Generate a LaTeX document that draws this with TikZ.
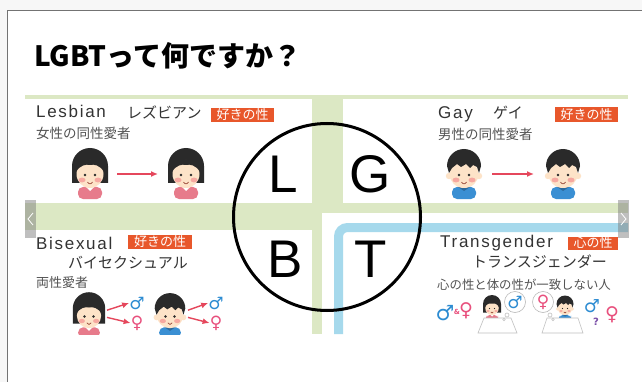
\documentclass[tikz,border=0pt]{standalone}
\usepackage{fontspec}
\setmainfont{Noto Sans CJK JP}
\newfontfamily\latinfont[LetterSpace=10]{Liberation Sans}
\newfontfamily\letterfont{Liberation Sans}
\newfontfamily\symbolfont{DejaVu Sans}
\usetikzlibrary{arrows.meta}

\definecolor{band}{HTML}{DCE8C4}
\definecolor{frameblue}{HTML}{A6D9EC}
\definecolor{tagorange}{HTML}{E8572B}
\definecolor{arrowred}{HTML}{E5475C}
\definecolor{maleblue}{HTML}{2D8CD2}
\definecolor{femalepink}{HTML}{E8507D}
\definecolor{qpurple}{HTML}{7B4FA8}
\definecolor{skin}{HTML}{FDE3C8}
\definecolor{cheek}{HTML}{F6A8A0}
\definecolor{hair}{HTML}{2A2A2A}
\definecolor{girlbody}{HTML}{E77B8B}
\definecolor{boybody}{HTML}{3A8FD3}
\definecolor{mouth}{HTML}{9A4A3A}
\definecolor{ink}{HTML}{333333}

\tikzset{
  en/.style={anchor=base west,inner sep=0,text=ink,font=\latinfont\fontsize{17}{17}\selectfont},
  kana/.style={anchor=base west,inner sep=0,text=ink,font=\fontsize{15}{15}\selectfont},
  note/.style={anchor=base west,inner sep=0,text=ink!85,font=\fontsize{13.5}{13.5}\selectfont},
  tag/.style={fill=tagorange,text=white,inner sep=0,font=\fontsize{13}{13}\selectfont},
  letter/.style={anchor=base,inner sep=0,text=black,font=\letterfont\fontsize{53}{53}\selectfont},
  male/.style={inner sep=0,text=maleblue,font=\symbolfont\bfseries\fontsize{17}{17}\selectfont},
  female/.style={inner sep=0,text=femalepink,font=\symbolfont\bfseries\fontsize{17}{17}\selectfont},
  bubble/.style={circle,draw=gray!55,fill=white,line width=0.6,minimum size=21,inner sep=0},
  arr/.style={arrowred,line width=1.4,-{Latex[length=7pt,width=6pt]}},
  desk/.style={fill=white,draw=gray!50,line width=0.6},
  % a girl with a bob and a pink top
  girl/.pic={
    \fill[girlbody,rounded corners=5] (-12,29) -- (-12,17) -- (12,17) -- (12,29) -- cycle;
    \fill[white] (-5,16) -- (0,21) -- (5,16) -- cycle;
    \fill[hair] (-18,13) -- (-18,-4) arc[start angle=180,end angle=360,radius=18] -- (18,13) -- cycle;
    \fill[skin] (0,4) ellipse (13.5 and 14);
    \fill[hair] (-14,2) .. controls (-10,-5) and (-4,-6) .. (0,-5) .. controls (4,-6) and (10,-5) .. (14,2) -- (15,-10) -- (-15,-10) -- cycle;
    \fill[hair] (-5,5) circle (1.4) (5,5) circle (1.4);
    \fill[cheek] (-8,10) ellipse (3.5 and 2.4) (8,10) ellipse (3.5 and 2.4);
    \draw[mouth,line width=0.7] (-2.5,12) .. controls (-1,14.5) and (1,14.5) .. (2.5,12);
    \coordinate (-l) at (-28,4);
    \coordinate (-r) at (27,4);
    \coordinate (-ne) at (20,-2);
    \coordinate (-se) at (20,6);
  },
  % a boy with short hair and a blue shirt
  boy/.pic={
    \fill[boybody,rounded corners=5] (-12,29) -- (-12,17) -- (12,17) -- (12,29) -- cycle;
    \fill[boybody!75!black] (-6,17) -- (0,21) -- (6,17) -- cycle;
    \fill[skin] (-15,6) circle (3.2) (15,6) circle (3.2);
    \fill[skin] (0,4) ellipse (14.5 and 14);
    \fill[hair] (-15,3) -- (-17,-4) arc[start angle=180,end angle=360,radius=17] -- (15,3) -- (13,-3) -- (9,-5) -- (6,-2) -- (2,-6) -- (-3,-3) -- (-7,-6) -- (-12,-2) -- cycle;
    \fill[hair] (-5,5) circle (1.4) (5,5) circle (1.4);
    \fill[cheek] (-8,10) ellipse (3.5 and 2.4) (8,10) ellipse (3.5 and 2.4);
    \draw[mouth,line width=0.7] (-2.5,12) .. controls (-1,14.5) and (1,14.5) .. (2.5,12);
    \coordinate (-l) at (-29,4);
    \coordinate (-r) at (28,4);
    \coordinate (-ne) at (20,-2);
    \coordinate (-se) at (20,6);
  }
}

\begin{document}
\begin{tikzpicture}[x=1pt,y=-1pt]
\useasboundingbox (0,0) rectangle (642,382);
% page
\fill[gray!6] (0,0) rectangle (642,382);
\fill[white] (7.5,10.5) rectangle (642,382);
\draw[gray!90!black,line width=1.2] (7.5,382) -- (7.5,10.5) -- (642,10.5);

\node[anchor=base west,inner sep=0,font=\bfseries\fontsize{28}{28}\selectfont] (title) at (34,67) {LGBTって何ですか？};

% panels on the green cross
\fill[band] (25,95) rectangle (628,334);
\fill[white] (25,99) rectangle (312,203);
\fill[white] (343,99) rectangle (628,203);
\fill[white] (25,230) rectangle (312,334);
\fill[white] (322,213) rectangle (628,334);
\draw[frameblue,line width=9,rounded corners=9] (338.5,334) -- (338.5,227.5) -- (628,227.5);

\begin{scope}
\clip (25,95) rectangle (628,334);

% Lesbian
\node[en] (les) at (36,118) {Lesbian};
\node[kana] (lesk) at (127,119) {レズビアン};
\node[tag,minimum width=63,minimum height=14] (lestag) at (242.5,115) {好きの性};
\node[note] (lesn) at (36,139) {女性の同性愛者};
\pic (lg1) at (90,170) {girl};
\pic (lg2) at (186,170) {girl};
\draw[arr] (lg1-r) -- (lg2-l);

% Gay
\node[en] (gay) at (438,119) {Gay};
\node[kana] (gayk) at (493,119) {ゲイ};
\node[tag,minimum width=63,minimum height=15] (gaytag) at (586.5,114.5) {好きの性};
\node[note] (gayn) at (438,140) {男性の同性愛者};
\pic (gb1) at (464,170) {boy};
\pic (gb2) at (563,170) {boy};
\draw[arr] (gb1-r) -- (gb2-l);

% Bisexual
\node[en] (bi) at (36,249) {Bisexual};
\node[tag,minimum width=64,minimum height=14] (bitag) at (160,242) {好きの性};
\node[kana] (bik) at (68,268) {バイセクシュアル};
\node[note,font=\fontsize{13}{13}\selectfont] (bin) at (36,287) {両性愛者};
\pic[scale=0.9] (bg) at (89,312) {girl};
\pic[scale=0.9] (bb) at (170,312) {boy};
\node[male] (bgm) at (137,303) {♂};
\node[female] (bgf) at (137,323) {♀};
\node[male] (bbm) at (216,303) {♂};
\node[female] (bbf) at (216,323) {♀};
\draw[arr] (bg-ne) -- (bgm.west);
\draw[arr] (bg-se) -- (bgf.west);
\draw[arr] (bb-ne) -- (bbm.west);
\draw[arr] (bb-se) -- (bbf.west);

% Transgender
\node[en] (tr) at (440,247) {Transgender};
\node[tag,minimum width=50,minimum height=13] (trtag) at (593,243) {心の性};
\node[kana] (trk) at (472,267) {トランスジェンダー};
\node[note,font=\fontsize{12.4}{12.4}\selectfont] (trn) at (437,289) {心の性と体の性が一致しない人};
\node[male,font=\symbolfont\bfseries\fontsize{21}{21}\selectfont] (tm1) at (445,313) {♂};
\node[inner sep=0,text=femalepink,font=\symbolfont\bfseries\fontsize{7}{7}\selectfont] (tamp) at (457,312) {\&};
\node[female,font=\symbolfont\bfseries\fontsize{19}{19}\selectfont] (tf1) at (466,311) {♀};
\pic[scale=0.5] (tg) at (492,306) {girl};
\pic[scale=0.5] (tb) at (565,306) {boy};
\draw[desk] (484,318) -- (511,318) -- (517,333) -- (478,333) -- cycle;
\draw[desk] (547,318) -- (578,318) -- (583,333) -- (542,333) -- cycle;
\node[bubble,male] (tbm) at (515,302) {♂};
\draw[desk] (507,315) circle (2) (504,319.5) circle (1.2);
\node[bubble,female] (tbf) at (543,302) {♀};
\draw[desk] (550,315) circle (2) (553,319.5) circle (1.2);
\node[male,font=\symbolfont\bfseries\fontsize{18}{18}\selectfont] (tm2) at (592,306) {♂};
\node[inner sep=0,text=qpurple,font=\symbolfont\bfseries\fontsize{10}{10}\selectfont] (tq) at (596,322) {?};
\node[female,font=\symbolfont\bfseries\fontsize{19}{19}\selectfont] (tf2) at (612,315) {♀};
\end{scope}

% the big ring with the four letters
\node[circle,draw=black,line width=3,minimum size=187,inner sep=0] (ring) at (327,217) {};
\node[letter] (lL) at (283.5,193) {L};
\node[letter] (lG) at (370,193) {G};
\node[letter] (lB) at (285,277) {B};
\node[letter] (lT) at (371,277) {T};

% slider tabs
\fill[gray,opacity=.5] (25,200) rectangle (36,238);
\draw[white,line width=.8] (33,213) -- (28,219) -- (33,225);
\fill[gray,opacity=.5] (618,200) rectangle (629,238);
\draw[white,line width=.8] (621,213) -- (626,219) -- (621,225);
\end{tikzpicture}
\end{document}
